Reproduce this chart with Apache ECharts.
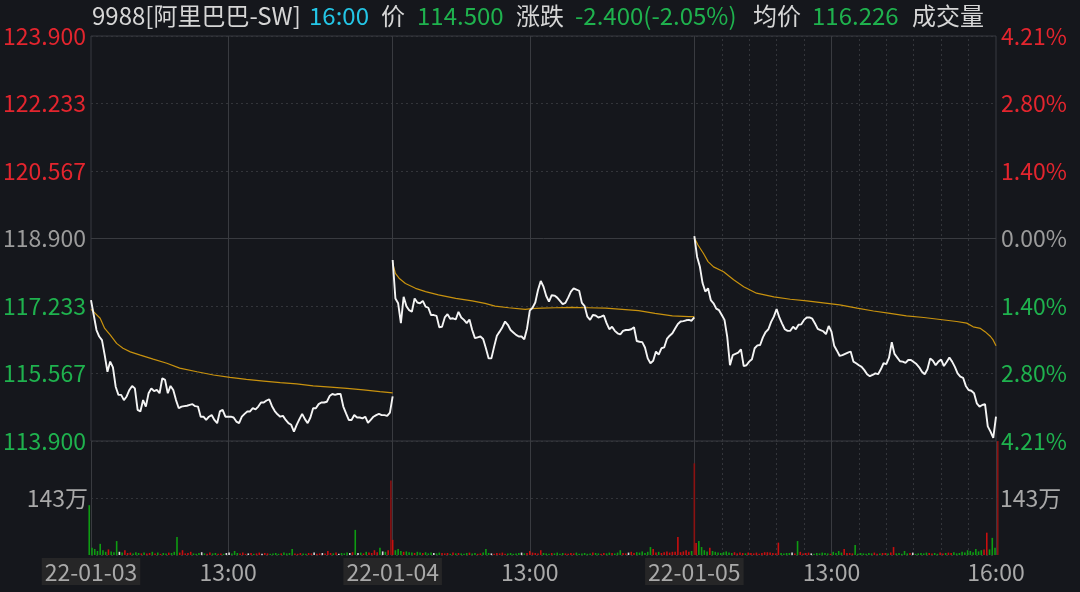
<!DOCTYPE html>
<html><head><meta charset="utf-8">
<script src="https://cdn.jsdelivr.net/npm/echarts@6/dist/echarts.min.js"></script>
<style>html,body{margin:0;padding:0;background:#15171c;}#c{width:1080px;height:592px;}</style>
</head><body><div id="c"></div>
<script>
// ---------- data ----------
const prevClose = 118.9;
const headerTexts = ['9988[阿里巴巴-SW]', '16:00', '价', '114.500', '涨跌', '-2.400(-2.05%)', '均价', '116.226', '成交量'];
const timeTickValues = [0, 150, 330, 480, 660, 810, 990];
const timeTickLabels = ['22-01-03', '13:00', '22-01-04', '13:00', '22-01-05', '13:00', '16:00'];
const priceTickLabels = ['113.900', '115.567', '117.233', '118.900', '120.567', '122.233', '123.900'];
const pctTickLabels = ['4.21%', '2.80%', '1.40%', '0.00%', '1.40%', '2.80%', '4.21%'];
const volTickLabels = ['', '143万', ''];

// prices every 3 minutes of each session (9:30 ... 12:00/13:00 ... 16:00)
const day1Price = [117.38,117.01,116.64,116.48,116.39,116.02,115.61,115.86,115.72,115.24,
115.04,115.04,114.91,115.00,115.16,115.26,115.20,114.67,114.63,114.91,
114.75,115.08,115.20,115.13,115.16,115.08,115.45,115.41,115.08,115.26,
115.16,114.91,114.71,114.75,114.76,114.77,114.79,114.81,114.76,114.75,
114.50,114.50,114.42,114.50,114.54,114.42,114.34,114.63,114.67,114.50,
114.50,114.50,114.48,114.38,114.34,114.50,114.57,114.63,114.63,114.71,
114.68,114.75,114.85,114.85,114.90,114.93,114.76,114.64,114.56,114.50,
114.52,114.42,114.34,114.30,114.13,114.30,114.44,114.57,114.44,114.34,
114.48,114.71,114.71,114.81,114.85,114.85,114.87,115.01,115.06,115.04,
115.06,115.06,114.75,114.58,114.42,114.42,114.54,114.48,114.48,114.46,
114.50,114.35,114.42,114.50,114.54,114.57,114.54,114.54,114.52,114.60,
115.00];
const day2Price = [118.37,117.42,117.30,116.81,117.46,117.23,117.13,117.09,117.42,117.32,
117.30,117.36,117.22,117.19,117.01,117.01,116.99,116.71,116.72,116.95,
117.03,116.92,116.93,116.90,117.09,116.95,116.89,116.81,116.90,116.64,
116.44,116.46,116.48,116.42,116.19,115.94,115.94,116.23,116.50,116.60,
116.71,116.85,116.77,116.64,116.58,116.52,116.48,116.48,116.41,116.68,
117.12,117.19,117.32,117.63,117.85,117.71,117.48,117.34,117.50,117.49,
117.44,117.36,117.28,117.31,117.44,117.59,117.67,117.64,117.61,117.31,
117.23,116.97,116.89,117.01,117.00,116.95,116.97,117.00,116.81,116.66,
116.72,116.62,116.56,116.53,116.62,116.64,116.64,116.66,116.71,116.37,
116.35,116.34,116.21,115.94,115.82,115.88,116.11,116.03,116.19,116.21,
116.42,116.50,116.56,116.68,116.79,116.85,116.86,116.88,116.89,116.87,
116.95];
const day3Price = [118.96,118.45,118.21,117.80,117.59,117.67,117.38,117.30,117.17,117.13,
117.01,116.89,116.47,115.77,116.02,116.05,116.08,116.16,115.75,115.77,
115.86,115.92,116.19,116.26,116.27,116.46,116.59,116.66,116.84,116.97,
117.16,116.95,116.80,116.66,116.62,116.62,116.72,116.66,116.77,116.78,
116.89,116.95,116.95,116.92,116.80,116.67,116.64,116.61,116.54,116.74,
116.60,116.25,116.13,116.00,116.02,116.05,116.08,116.11,115.86,115.82,
115.77,115.73,115.65,115.55,115.50,115.53,115.57,115.55,115.67,115.82,
115.80,115.96,116.34,116.05,115.96,115.87,115.86,115.83,115.90,115.90,
115.85,115.80,115.72,115.61,115.55,115.67,115.94,115.88,115.77,115.86,
115.91,115.75,115.85,115.96,115.86,115.73,115.57,115.49,115.46,115.26,
115.16,115.14,115.08,114.83,114.75,114.79,114.81,114.26,114.13,113.98,
114.50];

// average price: [minute of session, price]
const day1Avg = [[0,117.15],[3,117.09],[10,116.93],[15,116.68],[21,116.52],[28,116.31],[35,116.19],[43,116.10],[54,116.02],[68,115.92],[83,115.82],[97,115.70],[116,115.61],[134,115.53],[152,115.47],[170,115.42],[189,115.38],[207,115.34],[225,115.31],[243,115.26],[262,115.23],[280,115.20],[298,115.16],[316,115.12],[330,115.09]];
const day2Avg = [[0,118.29],[3,118.04],[7,117.92],[14,117.79],[25,117.67],[36,117.59],[50,117.51],[69,117.42],[87,117.36],[101,117.30],[112,117.23],[127,117.19],[145,117.15],[152,117.17],[163,117.18],[178,117.19],[196,117.20],[214,117.19],[233,117.18],[251,117.15],[269,117.12],[287,117.05],[306,116.99],[324,116.97],[330,116.97]];
const day3Avg = [[0,118.92],[4,118.74],[10,118.53],[15,118.33],[21,118.20],[32,118.08],[43,117.88],[54,117.71],[68,117.55],[87,117.46],[105,117.40],[123,117.36],[141,117.31],[159,117.26],[178,117.18],[196,117.11],[214,117.05],[232,116.99],[251,116.95],[269,116.90],[287,116.85],[298,116.81],[305,116.72],[313,116.68],[318,116.60],[324,116.48],[327,116.39],[330,116.25]];

// volume (万) every 3 minutes
const day1Vol = [125,18,15,10,28,12,8,14,9,7, 35,8,6,12,5,6,4,7,5,4, 6,4,5,8,4,6,3,5,4,6,
5,8,45,6,12,4,5,8,4,3, 5,7,4,3,6,4,5,3,4,3, 5,6,4,10,5,4,6,3,4,5, 3,4,6,3,5,4,3,4,5,3,
4,6,4,5,15,4,3,5,4,3, 5,4,6,3,4,5,4,10,5,4, 6,3,5,4,6,5,7,63,5,6, 4,8,6,5,12,7,18,9,8,12, 187];
const day2Vol = [38,12,15,10,8,9,7,6,5,8, 6,5,7,4,6,5,4,6,5,4, 5,3,6,4,5,4,3,5,6,4,
5,3,4,6,15,5,4,3,5,4, 6,3,4,5,3,4,5,6,4,5, 10,6,5,4,12,5,4,3,5,4, 6,3,5,4,3,5,4,6,3,4,
5,3,4,6,5,4,3,5,4,6, 5,4,6,12,5,4,6,8,5,7, 6,9,5,8,20,15,6,8,5,7, 9,6,8,8,45,7,9,12,8,10, 230];
const day3Vol = [30,35,20,12,9,18,10,8,6,5, 7,9,6,5,7,4,6,5,4,6, 5,4,6,3,5,7,7,6,5,4,
31,5,4,5,5,6,4,35,8,4, 5,6,4,3,5,4,6,5,4,3, 8,5,10,6,15,5,5,4,25,3, 5,4,3,5,4,6,3,4,5,5,
4,6,20,4,5,3,10,4,5,6, 3,4,5,4,6,5,4,5,3,6, 4,5,6,5,7,4,5,8,6,12, 10,7,15,9,12,14,56,14,43,18, 300];

// ---------- chart ----------
const DAY = 330;
const days = [
  {price: day1Price, avg: day1Avg, vol: day1Vol},
  {price: day2Price, avg: day2Avg, vol: day2Vol},
  {price: day3Price, avg: day3Avg, vol: day3Vol}
];
const FONT = 'Noto Sans CJK SC';
const RED = '#e3252e', GREEN = '#1fb24e', GRAY = '#9c9c9c', WHITE = '#d6d6d6';
const GRIDC = '#393b40', DOTC = '#33353a';

const series = [];
const solidX = timeTickValues.slice(1, -1);
const dottedX = [];
for (let m = 30; m < DAY; m += 30) if (m !== 150) dottedX.push(2 * DAY + m);
function vLines(xi, yi) {
  return {
    type: 'line', xAxisIndex: xi, yAxisIndex: yi, data: [], z: 1, silent: true,
    markLine: {
      symbol: ['none', 'none'], silent: true, animation: false, label: {show: false}, z: 1,
      lineStyle: {color: GRIDC, type: 'solid', width: 1},
      data: solidX.map(v => ({xAxis: v}))
        .concat(xi === 1 ? [{xAxis: 0}, {xAxis: 3 * DAY}] : [])
        .concat(dottedX.map(v => ({xAxis: v, lineStyle: {type: [2, 3], color: DOTC}})))
        .concat(xi === 0 ? [{yAxis: prevClose}] : [])
    }
  };
}
series.push(vLines(0, 0));
series.push(vLines(1, 2));

days.forEach((d, di) => {
  const n = d.price.length;
  const step = DAY / (n - 1);
  series.push({
    type: 'line', xAxisIndex: 0, yAxisIndex: 0, z: 4, symbol: 'none', animation: false,
    lineStyle: {color: '#f4f4f4', width: 1.9},
    data: d.price.map((p, i) => [di * DAY + i * step, p])
  });
  series.push({
    type: 'line', xAxisIndex: 0, yAxisIndex: 0, z: 3, symbol: 'none', animation: false,
    lineStyle: {color: '#c8920e', width: 1.2},
    data: d.avg.map(([m, p]) => [di * DAY + m, p])
  });
  const vstep = DAY / (d.vol.length - 1);
  series.push({
    type: 'bar', xAxisIndex: 1, yAxisIndex: 2, barWidth: 1.6, clip: true, animation: false, z: 6,
    data: d.vol.map((v, i) => {
      const pi = Math.min(Math.round(i * vstep / step), n - 1);
      const p = d.price[pi];
      const prev = pi > 0 ? d.price[pi - 1] : (di > 0 ? days[di - 1].price[days[di - 1].price.length - 1] : prevClose);
      let c = p > prev ? '#c80f0f' : (p < prev ? '#0e9c12' : '#d8d8d8');
      if (i === d.vol.length - 1) c = '#8c1212';
      return {value: [di * DAY + i * vstep, v], itemStyle: {color: c}};
    })
  });
});

const headerX = [92, 309, 381, 417, 516, 575, 753, 812, 912];
const headerC = [WHITE, '#24c6e6', WHITE, GREEN, WHITE, GREEN, WHITE, GREEN, WHITE];
const graphic = headerTexts.map((t, i) => ({
  type: 'text', left: headerX[i], top: 4, silent: true,
  style: {text: t, fill: headerC[i], font: '24px "' + FONT + '"'}
}));

const option = {
  backgroundColor: '#15171c',
  animation: false,
  textStyle: {fontFamily: FONT},
  graphic: graphic,
  grid: [
    {left: 91, right: 84, top: 36, height: 405, show: true, borderColor: GRIDC, borderWidth: 1, backgroundColor: 'transparent', outerBoundsMode: 'none'},
    {left: 91, right: 84, top: 441, height: 114, show: false, outerBoundsMode: 'none'}
  ],
  xAxis: [
    {type: 'value', gridIndex: 0, min: 0, max: 3 * DAY, interval: 30,
     axisLine: {show: false}, axisTick: {show: false}, axisLabel: {show: false}, splitLine: {show: false}},
    {type: 'value', gridIndex: 1, min: 0, max: 3 * DAY, interval: 30,
     axisLine: {show: false}, axisTick: {show: false}, splitLine: {show: false},
     axisLabel: {
       show: true, margin: 3, showMinLabel: true, showMaxLabel: true,
       formatter: v => {
         const k = timeTickValues.indexOf(Math.round(v));
         if (k < 0) return '';
         const t = timeTickLabels[k];
         return t.indexOf('-') >= 0 ? '{d|' + t + '}' : '{t|' + t + '}';
       },
       rich: {
         d: {color: '#a9a9a9', fontSize: 23, fontFamily: FONT, backgroundColor: '#262627', padding: [3, 3, 1, 3]},
         t: {color: '#a9a9a9', fontSize: 23, fontFamily: FONT, padding: [3, 0, 1, 0]}
       }
     }}
  ],
  yAxis: [
    {type: 'value', gridIndex: 0, position: 'left', min: 113.9, max: 123.9, interval: 1.666667,
     axisLine: {show: false}, axisTick: {show: false},
     splitLine: {show: true, lineStyle: {color: DOTC, type: [2, 3]}},
     axisLabel: {margin: 5, fontSize: 23, fontFamily: FONT,
       formatter: (v, i) => '{c' + (i > 3 ? 'r' : (i < 3 ? 'g' : 'n')) + '|' + priceTickLabels[i] + '}',
       rich: {cr: {color: RED, fontSize: 23}, cg: {color: GREEN, fontSize: 23}, cn: {color: GRAY, fontSize: 23}}}},
    {type: 'value', gridIndex: 0, position: 'right', min: 113.9, max: 123.9, interval: 1.666667,
     axisLine: {show: false}, axisTick: {show: false}, splitLine: {show: false},
     axisLabel: {margin: 5, fontSize: 23, fontFamily: FONT,
       formatter: (v, i) => '{c' + (i > 3 ? 'r' : (i < 3 ? 'g' : 'n')) + '|' + pctTickLabels[i] + '}',
       rich: {cr: {color: RED, fontSize: 23}, cg: {color: GREEN, fontSize: 23}, cn: {color: GRAY, fontSize: 23}}}},
    {type: 'value', gridIndex: 1, position: 'left', min: 0, max: 286, interval: 143,
     axisLine: {show: false}, axisTick: {show: false},
     splitLine: {show: true, lineStyle: {color: DOTC, type: [2, 3]}},
     axisLabel: {margin: 3, fontSize: 23, fontFamily: FONT, color: '#a9a9a9', formatter: (v, i) => volTickLabels[i] || ''}},
    {type: 'value', gridIndex: 1, position: 'right', min: 0, max: 286, interval: 143,
     axisLine: {show: false}, axisTick: {show: false}, splitLine: {show: false},
     axisLabel: {margin: 4, fontSize: 23, fontFamily: FONT, color: '#a9a9a9', formatter: (v, i) => volTickLabels[i] || ''}}
  ],
  series: series
};
const chart = echarts.init(document.getElementById('c'), null, {renderer: 'canvas'});
chart.setOption(option);
</script>
</body></html>
